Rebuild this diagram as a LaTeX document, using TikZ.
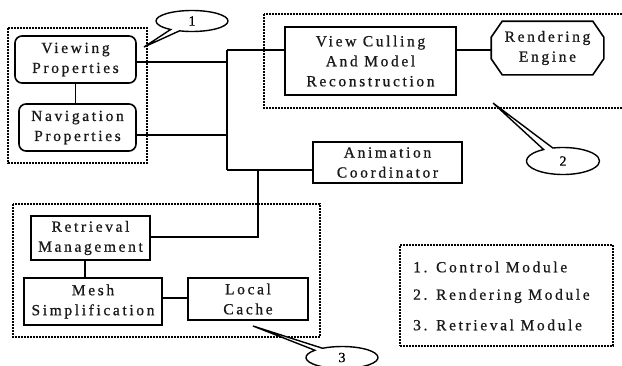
\documentclass[tikz,border=0pt]{standalone}
\usepackage{fontspec}
\setmainfont{Liberation Serif}[LetterSpace=17, FakeBold=0.8]
\usetikzlibrary{shapes.callouts,calc}
\begin{document}
\begin{tikzpicture}[x=1pt,y=-1pt,
  box/.style={draw, line width=1.6pt, inner sep=0pt, align=center,
    font=\fontsize{15.5}{20}\selectfont, text=black!90},
  rbox/.style={box, rounded corners=7pt},
  module/.style={draw, line width=1.6pt, dash pattern=on 1.6pt off 1.4pt},
  conn/.style={line width=1.6pt},
  bubble/.style={ellipse callout, draw, line width=1.4pt, fill=white, inner sep=0pt,
    callout pointer arc=16, font=\fontsize{14}{16}\selectfont},
  legtext/.style={anchor=west, inner sep=0pt, font=\fontsize{15.5}{18}\selectfont, text=black!90}]
\useasboundingbox (0,0) rectangle (622,365);

% module frames
\draw[module] (8,28) rectangle (147,163);
\draw[module] (264,14) rectangle (640,108);
\draw[module] (13,204) rectangle (320,337);

% nodes
\node[rbox, minimum width=121pt, minimum height=47pt] (vp) at (75.5,59.5) {Viewing\\Properties};
\node[rbox, minimum width=117pt, minimum height=47pt] (np) at (77.5,127.5) {Navigation\\Properties};
\node[box, fill=white, minimum width=171pt, minimum height=68pt] (vc) at (370.5,61) {View Culling\\And Model\\Reconstruction};
\node[box, draw=none, minimum width=111pt, minimum height=52pt] (re) at (547.5,48) {Rendering\\Engine};
\draw[conn] ($(re.north west)+(11,0)$) -- ($(re.north east)+(-11,0)$) -- ($(re.north east)+(0,16)$)
  -- ($(re.south east)+(0,-16)$) -- ($(re.south east)+(-11,0)$) -- ($(re.south west)+(11,0)$)
  -- ($(re.south west)+(0,-16)$) -- ($(re.north west)+(0,16)$) -- cycle;
\node[box, minimum width=149pt, minimum height=41pt] (ac) at (387.5,162.5) {Animation\\Coordinator};
\node[box, minimum width=119pt, minimum height=44pt] (rm) at (90.5,238) {Retrieval\\Management};
\node[box, minimum width=138pt, minimum height=47pt] (ms) at (93,301.5) {Mesh\\Simplification};
\node[box, minimum width=120pt, minimum height=42pt] (lc) at (248,299) {Local\\Cache};

% connectors
\coordinate (bt) at (227,50);
\coordinate (bb) at (227,170);
\coordinate (br) at (258,170);
\coordinate (brd) at (258,237);
\draw[conn] (bt) -- (bb);
\draw[conn] (vp.south) -- (vp.south |- np.north);
\draw[conn] ([yshift=-2.5pt]vp.east) -- ([yshift=-2.5pt]vp.east -| bt);
\draw[conn] ([yshift=-7.5pt]np.east) -- ([yshift=-7.5pt]np.east -| bt);
\draw[conn] (bt) -- (bt -| vc.west);
\draw[conn] (bt -| vc.east) -- (bt -| re.west);
\draw[conn] (bb) -- (bb -| ac.west);
\draw[conn] (br) -- (brd) -- (brd -| rm.east);
\draw[conn] ([xshift=-5.5pt]rm.south) -- ([xshift=-5.5pt]rm.south |- ms.north);
\draw[conn] ([yshift=3.5pt]ms.east) -- ([yshift=3.5pt]ms.east -| lc.west);

% callouts
\node[bubble, minimum width=72pt, minimum height=21pt, callout absolute pointer={(144,47)}] (c1) at (192,21) {1};
\node[bubble, minimum width=73pt, minimum height=27pt, callout absolute pointer={(493,103)}] (c2) at (563,161) {2};
\node[bubble, minimum width=72pt, minimum height=22pt, callout absolute pointer={(253,326)}] (c3) at (342,357.5) {3};

% legend
\node[module, minimum width=213pt, minimum height=101pt, inner sep=0pt] (legend) at (506.5,295.5) {};
\node[legtext] (l1) at (413,267) {1. Control Module};
\node[legtext] (l2) at (413,296) {2. Rendering Module};
\node[legtext] (l3) at (413,325) {3. Retrieval Module};
\end{tikzpicture}
\end{document}
